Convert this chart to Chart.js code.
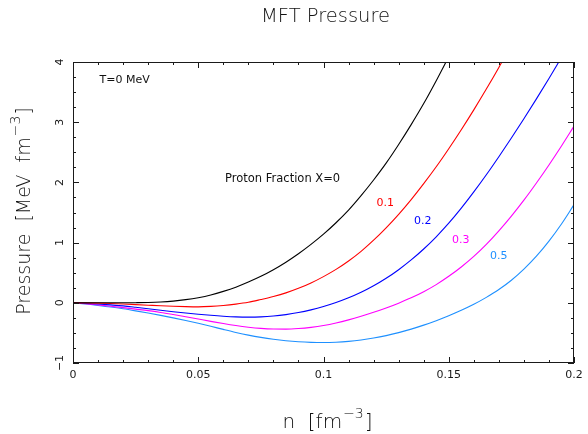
<!DOCTYPE html>
<html>
<head>
<meta charset="utf-8">
<script src="https://cdn.jsdelivr.net/npm/chart.js@4.4.1/dist/chart.umd.min.js"></script>
<style>
  html, body { margin: 0; padding: 0; background: #ffffff; }
  #wrap { width: 588px; height: 434px; }
</style>
</head>
<body>
<div id="wrap"><canvas id="c" width="588" height="434"></canvas></div>
<script>
// ---- data ----
const densities = [0, 0.005, 0.01, 0.015, 0.02, 0.025, 0.03, 0.035, 0.04, 0.045,
  0.05, 0.055, 0.06, 0.065, 0.07, 0.075, 0.08, 0.085, 0.09, 0.095,
  0.1, 0.105, 0.11, 0.115, 0.12, 0.125, 0.13, 0.135, 0.14, 0.145,
  0.15, 0.155, 0.16, 0.165, 0.17, 0.175, 0.18, 0.185, 0.19, 0.195, 0.2];

const pressureX0 = [0, 0, 0, 0, 0.001, 0.002, 0.005, 0.013, 0.028, 0.052,
  0.085, 0.13, 0.19, 0.26, 0.345, 0.44, 0.55, 0.675, 0.815, 0.97,
  1.14, 1.33, 1.54, 1.78, 2.04, 2.32, 2.63, 2.96, 3.31, 3.69, 4.09];

const pressureX01 = [0, -0.002, -0.006, -0.012, -0.02, -0.03, -0.04, -0.05, -0.058, -0.064,
  -0.067, -0.06, -0.045, -0.022, 0.009, 0.055, 0.105, 0.165, 0.24, 0.33,
  0.435, 0.555, 0.695, 0.855, 1.04, 1.245, 1.47, 1.715, 1.98, 2.26,
  2.56, 2.875, 3.205, 3.55, 3.91, 4.285];

const pressureX02 = [0, -0.01, -0.021, -0.035, -0.051, -0.074, -0.099, -0.124, -0.148, -0.17,
  -0.19, -0.208, -0.223, -0.234, -0.238, -0.234, -0.22, -0.196, -0.162, -0.117,
  -0.062, 0.004, 0.082, 0.174, 0.282, 0.407, 0.55, 0.712, 0.894, 1.097,
  1.322, 1.572, 1.842, 2.127, 2.427, 2.737, 3.057, 3.387, 3.727, 4.077];

const pressureX03 = [0, -0.015, -0.035, -0.057, -0.08, -0.105, -0.13, -0.16, -0.195, -0.232,
  -0.27, -0.308, -0.345, -0.378, -0.405, -0.425, -0.436, -0.438, -0.428, -0.408,
  -0.378, -0.336, -0.284, -0.224, -0.158, -0.086, -0.006, 0.082, 0.184, 0.302,
  0.44, 0.595, 0.77, 0.97, 1.195, 1.44, 1.705, 1.99, 2.29, 2.605, 2.935];

const pressureX05 = [0, -0.02, -0.044, -0.07, -0.1, -0.134, -0.17, -0.209, -0.25, -0.294,
  -0.34, -0.39, -0.442, -0.492, -0.537, -0.575, -0.606, -0.63, -0.647, -0.657,
  -0.66, -0.655, -0.641, -0.618, -0.586, -0.545, -0.495, -0.437, -0.371, -0.297,
  -0.215, -0.125, -0.025, 0.09, 0.22, 0.375, 0.56, 0.775, 1.025, 1.31, 1.63];

const seriesNames = ['X=0', 'X=0.1', 'X=0.2', 'X=0.3', 'X=0.5'];
const seriesColors = ['#000000', '#ff0000', '#0000ff', '#ff00ff', '#1e90ff'];
const seriesValues = [pressureX0, pressureX01, pressureX02, pressureX03, pressureX05];

const xMajorTicks = [0, 0.05, 0.1, 0.15, 0.2];
const xTickLabels = ['0', '0.05', '0.1', '0.15', '0.2'];
const yMajorTicks = [-1, 0, 1, 2, 3, 4];
const yTickLabels = ['\u22121', '0', '1', '2', '3', '4'];

// text annotations in data coordinates
const notes = [
  { text: 'T=0 MeV', n: 0.0106, p: 3.70, color: '#111111' },
  { text: 'Proton Fraction X=0', n: 0.0607, p: 2.05, color: '#111111' },
  { text: '0.1', n: 0.1212, p: 1.66, color: '#ff0000' },
  { text: '0.2', n: 0.1361, p: 1.35, color: '#0000ff' },
  { text: '0.3', n: 0.1513, p: 1.04, color: '#ff00ff' },
  { text: '0.5', n: 0.1665, p: 0.77, color: '#1e90ff' }
];

const FONT = '"DejaVu Sans", "Liberation Sans", sans-serif';
const INK = '#1a1a1a';

const datasets = seriesValues.map((vals, i) => ({
  label: seriesNames[i],
  data: vals.map((v, k) => ({ x: densities[k], y: v })),
  borderColor: seriesColors[i],
  backgroundColor: seriesColors[i],
  borderWidth: 1.1,
  pointRadius: 0,
  fill: false,
  cubicInterpolationMode: 'monotone'
}));

const framePlugin = {
  id: 'frame',
  afterDraw(chart) {
    const ctx = chart.ctx;
    const a = chart.chartArea;
    const xs = chart.scales.x, ys = chart.scales.y;
    ctx.save();
    ctx.strokeStyle = INK;
    ctx.lineWidth = 1;
    // frame
    ctx.strokeRect(Math.round(a.left) + 0.5, Math.round(a.top) + 0.5,
      Math.round(a.right - a.left) - 1, Math.round(a.bottom - a.top) - 1);
    // x ticks (minor 0.01, major 0.05)
    ctx.beginPath();
    for (let k = 0; k <= 20; k++) {
      const v = k * 0.01;
      const major = k % 5 === 0;
      const len = major ? 6 : 3;
      const px = Math.round(xs.getPixelForValue(v)) + 0.5;
      ctx.moveTo(px, a.bottom); ctx.lineTo(px, a.bottom - len);
      ctx.moveTo(px, a.top); ctx.lineTo(px, a.top + len);
    }
    // y ticks (minor 0.25, major 1)
    for (let k = -4; k <= 16; k++) {
      const v = k * 0.25;
      const major = k % 4 === 0;
      const len = major ? 6 : 3;
      const py = Math.round(ys.getPixelForValue(v)) + 0.5;
      ctx.moveTo(a.left, py); ctx.lineTo(a.left + len, py);
      ctx.moveTo(a.right, py); ctx.lineTo(a.right - len, py);
    }
    ctx.stroke();

    // tick labels
    ctx.fillStyle = INK;
    ctx.font = '11px ' + FONT;
    ctx.textAlign = 'center';
    ctx.textBaseline = 'middle';
    xMajorTicks.forEach((v, i) => {
      ctx.fillText(xTickLabels[i], xs.getPixelForValue(v), a.bottom + 12);
    });
    yMajorTicks.forEach((v, i) => {
      ctx.save();
      ctx.translate(a.left - 13, ys.getPixelForValue(v));
      ctx.rotate(-Math.PI / 2);
      ctx.fillText(yTickLabels[i], 0, 0);
      ctx.restore();
    });

    // annotations
    ctx.textAlign = 'left';
    notes.forEach(nt => {
      ctx.fillStyle = nt.color;
      ctx.font = (nt.text.length > 10 ? '11.5px ' : '11px ') + FONT;
      ctx.fillText(nt.text, xs.getPixelForValue(nt.n), ys.getPixelForValue(nt.p));
    });

    // title
    ctx.fillStyle = '#111111';
    ctx.textAlign = 'center';
    ctx.font = '200 19.5px ' + FONT;
    ctx.fillText('MFT Pressure', (a.left + a.right) / 2 + 2, 17);

    // axis titles with superscript
    function drawSupTitle(pre, sup, post, cx, cy, rot, size) {
      ctx.save();
      ctx.translate(cx, cy);
      ctx.rotate(rot);
      ctx.textAlign = 'left';
      ctx.textBaseline = 'middle';
      const mainFont = '200 ' + size + 'px ' + FONT;
      const supFont = '200 ' + Math.round(size * 0.72) + 'px ' + FONT;
      ctx.font = mainFont; const w1 = ctx.measureText(pre).width;
      ctx.font = supFont; const w2 = ctx.measureText(sup).width;
      ctx.font = mainFont; const w3 = ctx.measureText(post).width;
      let x = -(w1 + w2 + w3 + 2) / 2;
      ctx.font = mainFont; ctx.fillText(pre, x, 0); x += w1 + 1;
      ctx.font = supFont; ctx.fillText(sup, x, -size * 0.45); x += w2 + 1;
      ctx.font = mainFont; ctx.fillText(post, x, 0);
      ctx.restore();
    }
    ctx.fillStyle = '#111111';
    drawSupTitle('n  [fm', '\u22123', ']', (a.left + a.right) / 2 + 4, 423, 0, 20);
    drawSupTitle('Pressure  [MeV  fm', '\u22123', ']', 25, 211, -Math.PI / 2, 19);
    ctx.restore();
  }
};

new Chart(document.getElementById('c'), {
  type: 'line',
  data: { datasets },
  options: {
    responsive: false,
    animation: false,
    events: [],
    layout: { padding: { left: 73, right: 14, top: 62, bottom: 71 } },
    plugins: { legend: { display: false }, tooltip: { enabled: false }, title: { display: false } },
    scales: {
      x: { type: 'linear', min: 0, max: 0.2, display: false },
      y: { type: 'linear', min: -1, max: 4, display: false }
    }
  },
  plugins: [framePlugin]
});
</script>
</body>
</html>
